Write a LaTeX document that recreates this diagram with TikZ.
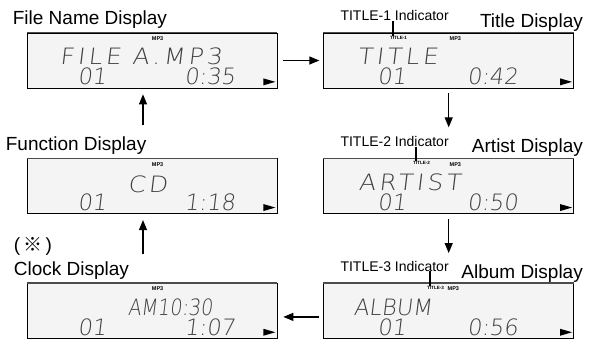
\documentclass[tikz,border=0pt]{standalone}
\usepackage{fontspec}
\setmainfont{Liberation Sans}
\newfontfamily\cjkfont{Noto Sans CJK JP}
\newcommand\setlcdfaces[1]{%
  \newfontfamily\lcdfont{#1}[FakeSlant=0.12]%
  \newfontfamily\lcdnarrowfont{#1}[FakeSlant=0.12,FakeStretch=0.85]%
  \newfontfamily\lcdwidefont{#1}[FakeSlant=0.12,FakeStretch=1.1,LetterSpace=15]}
\IfFontExistsTF{DejaVu Sans ExtraLight}{\setlcdfaces{DejaVu Sans ExtraLight}}{%
  \IfFontExistsTF{Lato Light}{\setlcdfaces{Lato Light}}{%
    \IfFontExistsTF{Fira Sans Light}{\setlcdfaces{Fira Sans Light}}{%
      \setlcdfaces{DejaVu Sans Mono}}}}
\usetikzlibrary{positioning, arrows.meta}
\tikzset{
  lcdbox/.style={
    draw, line width=0.7pt, fill=gray!9,
    minimum width=250pt, minimum height=55pt, inner sep=0pt
  },
  topedge/.style={draw=gray!60!black, line width=1.6pt},
  caption/.style={font=\fontsize{19}{23}\selectfont, inner sep=0pt},
  indcaption/.style={font=\fontsize{14}{16}\selectfont, inner sep=0pt},
  lcdtext/.style={font=\lcdfont\fontsize{22.5}{24}\selectfont,
    text=black!75, inner sep=0pt},
  lcdnarrow/.style={lcdtext, font=\lcdnarrowfont\fontsize{22.5}{24}\selectfont},
  lcdwide/.style={lcdtext, font=\lcdwidefont\fontsize{22.5}{24}\selectfont},
  tinytext/.style={font=\bfseries\fontsize{4.6}{5}\selectfont, inner sep=0pt},
  mptext/.style={font=\bfseries\fontsize{5.5}{6}\selectfont, inner sep=0pt},
  flow/.style={-{Triangle[length=10pt,width=8pt]}, line width=1.2pt},
  indtick/.style={line width=1.8pt},
}

\begin{document}
\begin{tikzpicture}[x=1pt, y=-1pt]
  \useasboundingbox (0,0) rectangle (611,338);

  % the six displays
  \node[lcdbox] (fname) at (152,60.5) {};
  \node[lcdbox, right=46pt of fname] (title) {};
  \node[lcdbox, below=70pt of fname] (func) {};
  \node[lcdbox, below=70pt of title] (artist) {};
  \node[lcdbox, below=69pt of func] (clock) {};
  \node[lcdbox, below=69pt of artist] (album) {};
  \foreach \b in {fname,title,func,artist,clock,album} {
    \draw[topedge] (\b.north west) -- (\b.north east);
    \fill ([xshift=-14pt, yshift=3pt]\b.south east) -- ++(0,-7) -- ++(12,3.5) -- cycle;
  }

  % captions
  \node[caption, anchor=base west] (fnamecap) at ([xshift=-14pt, yshift=8pt]fname.north west) {File Name Display};
  \node[caption, anchor=base east] (titlecap) at ([xshift=9pt, yshift=5pt]title.north east) {Title Display};
  \node[indcaption, anchor=base west] (ind1cap) at ([xshift=17pt, yshift=12pt]title.north west) {TITLE-1 Indicator};
  \node[caption, anchor=base west] (funccap) at ([xshift=-21pt, yshift=8pt]func.north west) {Function Display};
  \node[caption, anchor=base east] (artistcap) at ([xshift=9pt, yshift=6pt]artist.north east) {Artist Display};
  \node[indcaption, anchor=base west] (ind2cap) at ([xshift=17pt, yshift=12pt]artist.north west) {TITLE-2 Indicator};
  \node[caption, anchor=base west] (clockcap) at ([xshift=-13pt, yshift=8pt]clock.north west) {Clock Display};
  \node[caption, anchor=base west] (notecap) at ([yshift=24pt]clockcap.base west) {(\,{\cjkfont ※}\,)};
  \node[caption, anchor=base east] (albumcap) at ([xshift=9pt, yshift=5pt]album.north east) {Album Display};
  \node[indcaption, anchor=base west] (ind3cap) at ([xshift=17pt, yshift=12pt]album.north west) {TITLE-3 Indicator};

  % file name display
  \node[mptext] (fnamemp) at ([xshift=131pt, yshift=-6pt]fname.north west) {MP3};
  \node[lcdwide, anchor=base west] (fnameA) at ([xshift=33pt, yshift=-32pt]fname.north west) {FILE A.MP3};
  \node[lcdtext, anchor=base west] (fnameB) at ([xshift=51pt, yshift=-52pt]fname.north west) {01};
  \node[lcdtext, anchor=base east] (fnameC) at ([xshift=-42pt, yshift=-52pt]fname.north east) {0:35};

  % title display
  \coordinate (t1) at ([xshift=70pt, yshift=-3pt]title.north west);
  \node[tinytext, anchor=north west] (ind1) at ([xshift=-3.4pt]t1) {TITLE-1};
  \node[mptext] (titlemp) at ([xshift=132pt, yshift=-6pt]title.north west) {MP3};
  \node[lcdwide, anchor=base west] (titleA) at ([xshift=34pt, yshift=-32pt]title.north west) {TITLE};
  \node[lcdtext, anchor=base west] (titleB) at ([xshift=54pt, yshift=-52pt]title.north west) {01};
  \node[lcdtext, anchor=base east] (titleC) at ([xshift=-56pt, yshift=-52pt]title.north east) {0:42};
  \draw[indtick] (ind1cap.south -| t1) -- (t1);

  % function display
  \node[mptext] (funcmp) at ([xshift=131pt, yshift=-6pt]func.north west) {MP3};
  \node[lcdwide, anchor=base] (funcA) at ([xshift=121pt, yshift=-34pt]func.north west) {CD};
  \node[lcdtext, anchor=base west] (funcB) at ([xshift=51pt, yshift=-52pt]func.north west) {01};
  \node[lcdtext, anchor=base east] (funcC) at ([xshift=-42pt, yshift=-52pt]func.north east) {1:18};

  % artist display
  \coordinate (t2) at ([xshift=93pt, yshift=-3pt]artist.north west);
  \node[tinytext, anchor=north west] (ind2) at ([xshift=-3.4pt]t2) {TITLE-2};
  \node[mptext] (artistmp) at ([xshift=132pt, yshift=-6pt]artist.north west) {MP3};
  \node[lcdwide, anchor=base west] (artistA) at ([xshift=35pt, yshift=-32pt]artist.north west) {ARTIST};
  \node[lcdtext, anchor=base west] (artistB) at ([xshift=54pt, yshift=-52pt]artist.north west) {01};
  \node[lcdtext, anchor=base east] (artistC) at ([xshift=-56pt, yshift=-52pt]artist.north east) {0:50};
  \draw[indtick] (ind2cap.south -| t2) -- (t2);

  % clock display
  \node[mptext] (clockmp) at ([xshift=131pt, yshift=-6pt]clock.north west) {MP3};
  \node[lcdnarrow, anchor=base west] (clockA) at ([xshift=101pt, yshift=-32pt]clock.north west) {AM10:30};
  \node[lcdtext, anchor=base west] (clockB) at ([xshift=51pt, yshift=-52pt]clock.north west) {01};
  \node[lcdtext, anchor=base east] (clockC) at ([xshift=-42pt, yshift=-52pt]clock.north east) {1:07};

  % album display
  \coordinate (t3) at ([xshift=107pt, yshift=-3pt]album.north west);
  \node[tinytext, anchor=north west] (ind3) at ([xshift=-3.4pt]t3) {TITLE-3};
  \node[mptext] (albummp) at ([xshift=130pt, yshift=-6pt]album.north west) {MP3};
  \node[lcdtext, anchor=base west] (albumA) at ([xshift=30pt, yshift=-32pt]album.north west) {ALBUM};
  \node[lcdtext, anchor=base west] (albumB) at ([xshift=54pt, yshift=-52pt]album.north west) {01};
  \node[lcdtext, anchor=base east] (albumC) at ([xshift=-56pt, yshift=-52pt]album.north east) {0:56};
  \draw[indtick] (ind3cap.south -| t3) -- (t3);

  % display cycle
  \draw[flow] ([xshift=6pt]fname.east) -- ([xshift=-4pt]title.west);
  \draw[flow] ([yshift=-5pt]title.south) -- ([yshift=31pt]artist.north);
  \draw[flow] ([yshift=-5pt]artist.south) -- ([yshift=30pt]album.north);
  \draw[flow] ([xshift=-4pt, yshift=-6pt]album.west) -- ([xshift=6pt, yshift=-6pt]clock.east);
  \draw[flow] ([xshift=-9pt, yshift=29pt]clock.north) -- ([xshift=-9pt, yshift=-6pt]func.south);
  \draw[flow] ([xshift=-9pt, yshift=33pt]func.north) -- ([xshift=-9pt, yshift=-6pt]fname.south);
\end{tikzpicture}
\end{document}
